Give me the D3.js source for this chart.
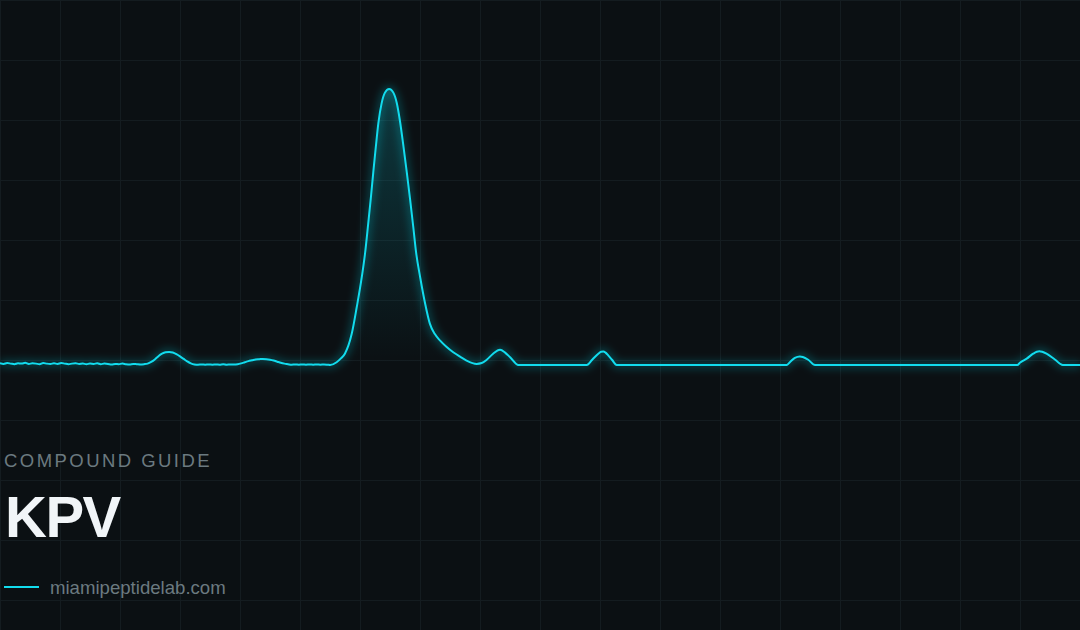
<!DOCTYPE html>
<html>
<head>
<meta charset="utf-8">
<script src="https://cdn.jsdelivr.net/npm/d3@7"></script>
<style>
  html, body { margin: 0; padding: 0; background: #0b1013; }
  svg { display: block; }
</style>
</head>
<body>
<svg id="chart" width="1080" height="630"></svg>
<script>
// Retention time (min) and detector signal (% of main peak)
const retentionTime = [
  0.0,0.1,0.2,0.3,0.4,0.5,0.6,0.7,0.8,0.9,1.0,1.1,1.2,1.3,1.4,1.5,1.6,1.7,1.8,1.9,
  2.0,2.1,2.2,2.3,2.4,2.5,2.6,2.7,2.8,2.9,3.0,3.1,3.2,3.3,3.4,3.5,3.6,3.7,3.8,3.9,4.0,
  4.1,4.2,4.3,4.4,4.5,4.6,4.7,4.8,4.9,5.0,5.1,5.2,5.3,5.4,
  5.5,5.6,5.7,5.8,5.9,6.0,6.1,6.2,6.3,6.4,6.5,6.6,
  6.7,6.8,6.9,7.0,7.1,7.2,7.3,7.4,7.5,7.6,7.7,7.8,7.9,8.0,8.1,
  8.2,8.3,8.4,8.5,8.6,8.7,8.8,8.9,9.0,9.1,9.17,
  9.35,9.47,9.58,9.77,9.91,10.05,10.14,10.23,10.30,10.37,10.44,10.51,10.60,10.69,10.81,
  10.93,11.02,11.11,11.20,11.30,11.39,11.48,11.56,11.67,11.81,11.94,12.08,12.22,12.40,12.59,
  12.78,12.96,13.24,13.38,13.52,13.69,13.89,14.03,14.17,14.4,
  16.3,16.45,16.62,16.7,16.76,16.82,16.9,17.0,17.13,
  21.85,21.94,22.08,22.22,22.3,22.45,22.64,
  28.26,28.33,28.52,28.7,28.8,28.87,28.95,29.07,29.31,29.52,30.0
];
const signal = [
  0.6,0.4,0.7,0.5,0.3,0.6,0.5,0.8,0.4,0.6,0.5,0.3,0.7,0.5,0.4,0.6,0.4,0.7,0.5,0.3,
  0.5,0.6,0.4,0.5,0.3,0.5,0.4,0.6,0.3,0.5,0.4,0.2,0.4,0.3,0.5,0.3,0.2,0.4,0.3,0.2,0.3,
  0.5,1.1,2.0,3.2,4.1,4.6,4.7,4.5,3.9,3.1,2.2,1.3,0.6,0.2,
  0.1,0.2,0.1,0.2,0.1,0.2,0.1,0.3,0.1,0.2,0.2,0.3,
  0.6,1.0,1.4,1.7,2.0,2.1,2.2,2.1,1.9,1.6,1.2,0.8,0.5,0.3,0.1,
  0.2,0.1,0.2,0.1,0.2,0.1,0.2,0.1,0.2,0.1,0.0,
  1.0,2.4,4.1,11.3,21.0,31.9,40.4,51.5,60.4,70.0,79.1,87.6,94.8,98.6,100,
  98.6,95.0,88.4,79.9,69.8,60.2,50.0,40.6,31.9,22.2,15.0,11.2,8.9,6.6,4.6,
  3.0,1.6,0.4,0.7,1.9,4.0,5.5,4.5,2.8,0.0,
  0.0,1.9,4.1,4.8,4.9,4.5,3.4,1.9,0.0,
  0.0,1.0,2.6,3.1,2.9,1.9,0.0,
  0.0,0.8,2.3,4.1,4.8,5.0,4.8,4.1,1.9,0.0,0.0
];
const eyebrow = "COMPOUND GUIDE";
const title = "KPV";
const source = "miamipeptidelab.com";

const W = 1080, H = 630;
const data = retentionTime.map((t, i) => ({ t, v: signal[i] }));

const svg = d3.select("#chart");
const x = d3.scaleLinear().domain([0, 30]).range([0, W]);
const y = d3.scaleLinear().domain([0, 100]).range([365, 89]);
const cyan = "#12dcee";

const defs = svg.append("defs");
const grad = defs.append("linearGradient")
  .attr("id", "fillGrad")
  .attr("gradientUnits", "userSpaceOnUse")
  .attr("x1", 0).attr("x2", 0).attr("y1", y(100)).attr("y2", y(0));
grad.append("stop").attr("offset", "0%").attr("stop-color", cyan).attr("stop-opacity", 0.2);
grad.append("stop").attr("offset", "100%").attr("stop-color", cyan).attr("stop-opacity", 0.0);

const glow = defs.append("filter").attr("id", "glow")
  .attr("x", "-20%").attr("y", "-20%").attr("width", "140%").attr("height", "140%");
glow.append("feGaussianBlur").attr("stdDeviation", 4);

// background
svg.append("rect").attr("width", W).attr("height", H).attr("fill", "#0b1013");

// grid
const grid = svg.append("g").attr("stroke", "#141c20").attr("stroke-width", 1);
grid.selectAll("line.v").data(d3.range(0, W + 1, 60)).join("line")
  .attr("x1", d => d + 0.5).attr("x2", d => d + 0.5).attr("y1", 0).attr("y2", H);
grid.selectAll("line.h").data(d3.range(0, H + 1, 60)).join("line")
  .attr("y1", d => d + 0.5).attr("y2", d => d + 0.5).attr("x1", 0).attr("x2", W);

const line = d3.line().x(d => x(d.t)).y(d => y(d.v)).curve(d3.curveMonotoneX);
const area = d3.area().x(d => x(d.t)).y0(y(0)).y1(d => y(d.v)).curve(d3.curveMonotoneX);

svg.append("path").datum(data).attr("d", area).attr("fill", "url(#fillGrad)");
svg.append("path").datum(data).attr("d", line)
  .attr("fill", "none").attr("stroke", cyan).attr("stroke-width", 5)
  .attr("stroke-opacity", 0.35).attr("filter", "url(#glow)");
svg.append("path").datum(data).attr("d", line)
  .attr("fill", "none").attr("stroke", cyan).attr("stroke-width", 2)
  .attr("stroke-linejoin", "round");

// text
svg.append("text").attr("x", 4).attr("y", 467)
  .attr("font-family", "Liberation Sans, Arial, sans-serif")
  .attr("font-size", 18.5).attr("letter-spacing", 2.45)
  .attr("fill", "#6b7a80").text(eyebrow);
svg.append("text").attr("x", 5).attr("y", 537)
  .attr("font-family", "Liberation Sans, Arial, sans-serif")
  .attr("font-size", 58).attr("font-weight", "bold").attr("letter-spacing", -1.5)
  .attr("fill", "#f1f5f8").text(title);
svg.append("line").attr("x1", 4).attr("x2", 39).attr("y1", 587).attr("y2", 587)
  .attr("stroke", cyan).attr("stroke-width", 2);
svg.append("text").attr("x", 50).attr("y", 594)
  .attr("font-family", "Liberation Sans, Arial, sans-serif")
  .attr("font-size", 18.6).attr("fill", "#6b7a80").text(source);
</script>
</body>
</html>
